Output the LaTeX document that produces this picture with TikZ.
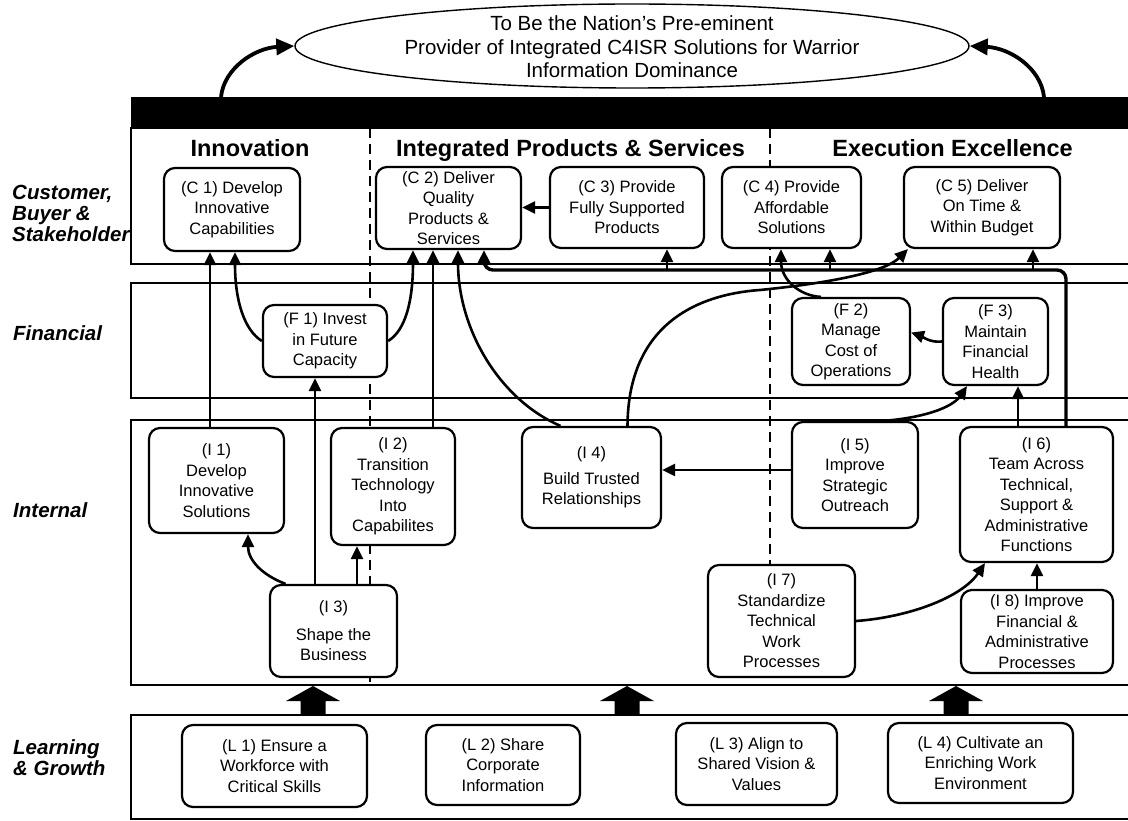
\documentclass[tikz,border=0pt]{standalone}
\usepackage{fontspec}
\setmainfont{Liberation Sans}
\usetikzlibrary{arrows.meta,shapes.geometric}
\newcommand\bxfont{\fontsize{16.5}{20.5}\selectfont}
\newcommand\hdfont{\fontsize{23.5}{26}\selectfont\bfseries}
\newcommand\rowfont{\fontsize{20.5}{21}\selectfont\bfseries\itshape}
\newcommand\visfont{\fontsize{20.5}{23.5}\selectfont}
\begin{document}
\begin{tikzpicture}[x=1pt,y=-1pt,
  obj/.style={draw, line width=2.2pt, rounded corners=11pt, fill=white, align=center, inner sep=0pt, font=\bxfont},
  sz/.style n args={2}{minimum width=#1pt, minimum height=#2pt},
  conn/.style={line width=2.6pt, -{Triangle[length=13pt,width=12pt]}},
  bigconn/.style={line width=3.8pt, -{Triangle[length=18pt,width=16pt]}},
  band/.style={draw, line width=1.6pt},
  dashline/.style={line width=2.6pt, dash pattern=on 10pt off 6pt},
  rowlabel/.style={anchor=west, align=left, font=\rowfont, inner sep=0pt},
  heading/.style={anchor=base, font=\hdfont, inner sep=0pt},
  blockarrow/.style={fill=black}
]
\useasboundingbox (0,0) rectangle (1128,821);
\clip (0,0) rectangle (1128,821);
\fill[white] (0,0) rectangle (1128,821);

% bands
\draw[band] (131,128) rectangle (1140,264);
\draw[band] (131,283) rectangle (1140,398);
\draw[band] (131,420) rectangle (1140,685);
\draw[band] (131,715) rectangle (1140,819);
\node[fill=black, inner sep=0pt, minimum width=1010pt, minimum height=31pt, anchor=north west] (bar) at (131,97) {};

% column separators
\draw[dashline] (370,128) -- (370,685);
\draw[dashline] (770,128) -- (770,565);

% headings
\node[heading] (hInn) at (250,157) {Innovation};
\node[heading] (hInt) at (570.5,157) {Integrated Products \& Services};
\node[heading] (hExe) at (952.5,157) {Execution Excellence};

% row labels
\node[rowlabel] (rC) at (12,213) {Customer,\\Buyer \&\\Stakeholder};
\node[rowlabel] (rF) at (13,333) {Financial};
\node[rowlabel] (rI) at (13,510) {Internal};
\node[rowlabel] (rL) at (13,758) {Learning\\\& Growth};

% vision
\node[ellipse, draw, line width=1.4pt, minimum width=674pt, minimum height=84pt, inner sep=0pt] (vision) at (632,46) {};
\node[align=center, font=\visfont, inner sep=0pt] (vistext) at (632,47) {To Be the Nation's Pre-eminent\\Provider of Integrated C4ISR Solutions for Warrior\\Information Dominance};

% objective boxes
\node[obj, sz={136}{83}] (C1) at (232,209.5) {(C 1) Develop\\Innovative\\Capabilities};
\node[obj, sz={145}{82}] (C2) at (448.5,208) {(C 2) Deliver\\Quality\\Products \&\\Services};
\node[obj, sz={154}{81}] (C3) at (627,207.5) {(C 3) Provide\\Fully Supported\\Products};
\node[obj, sz={139}{81}] (C4) at (791.5,207.5) {(C 4) Provide\\Affordable\\Solutions};
\node[obj, sz={156}{81}] (C5) at (982,207.5) {(C 5) Deliver\\On Time \&\\Within Budget};

\node[obj, sz={124}{72}] (F1) at (325,341) {(F 1) Invest\\in Future\\Capacity};
\node[obj, sz={118}{87}] (F2) at (851,341.5) {(F 2)\\Manage\\Cost of\\Operations};
\node[obj, sz={105}{87}] (F3) at (995.5,341.5) {(F 3)\\Maintain\\Financial\\Health};

\node[obj, sz={135}{105}] (I1) at (216.5,480.5) {(I 1)\\Develop\\Innovative\\Solutions};
\node[obj, sz={124}{117}] (I2) at (393,486.5) {(I 2)\\Transition\\Technology\\Into\\Capabilites};
\node[obj, sz={127}{92}] (I3) at (333.5,631) {(I 3)\\[7pt]Shape the\\Business};
\node[obj, sz={139}{101}] (I4) at (591.5,477.5) {(I 4)\\[5pt]Build Trusted\\Relationships};
\node[obj, sz={126}{106}] (I5) at (855,475) {(I 5)\\Improve\\Strategic\\Outreach};
\node[obj, sz={153}{135}] (I6) at (1036.5,494.5) {(I 6)\\Team Across\\Technical,\\Support \&\\Administrative\\Functions};
\node[obj, sz={147}{112}] (I7) at (781.5,621) {(I 7)\\Standardize\\Technical\\Work\\Processes};
\node[obj, sz={152}{83}] (I8) at (1037,631.5) {(I 8) Improve\\Financial \&\\Administrative\\Processes};

\node[obj, sz={185}{82}] (L1) at (274.5,766) {(L 1) Ensure a\\Workforce with\\Critical Skills};
\node[obj, sz={154}{80}] (L2) at (503,765) {(L 2) Share\\Corporate\\Information};
\node[obj, sz={161}{82}] (L3) at (756.5,764) {(L 3) Align to\\Shared Vision \&\\Values};
\node[obj, sz={185}{80}] (L4) at (980.5,763) {(L 4) Cultivate an\\Enriching Work\\Environment};

% helper coordinates
\coordinate (x210) at (210,0);
\coordinate (x235) at (235,0);
\coordinate (x248) at (248,0);
\coordinate (x315) at (315,0);
\coordinate (x357) at (357,0);
\coordinate (x413) at (413,0);
\coordinate (x433) at (433,0);
\coordinate (x458) at (458,0);
\coordinate (x484) at (484,0);
\coordinate (x781) at (781,0);
\coordinate (x967) at (967,0);
\coordinate (x985) at (985,0);
\coordinate (x1018) at (1018,0);
\coordinate (x1037) at (1037,0);
\coordinate (x1066) at (1066,0);
\coordinate (x221) at (221,0);
\coordinate (x1044) at (1044,0);
\coordinate (y270) at (0,270);
\coordinate (y470) at (0,470);
\coordinate (b3) at (667,270);
\coordinate (b4) at (830,270);
\coordinate (b5) at (1033,270);

% vision arrows
\draw[bigconn] (bar.north -| x221) .. controls (224,68) and (255,48) .. (vision.west);
\draw[bigconn] (bar.north -| x1044) .. controls (1041,68) and (1010,48) .. (vision.east);

% connectors
\draw[conn] (C3.west) -- (C2.east |- C3.west);
\draw[conn] (I1.north -| x210) -- (C1.south -| x210);
\draw[conn] (F1.west) .. controls (244,330) and (235,300) .. (C1.south -| x235);
\draw[conn] (F1.east) .. controls (406,330) and (413,300) .. (C2.south -| x413);
\draw[conn] (I2.north -| x433) -- (C2.south -| x433);
\draw[conn] ([xshift=-31pt]I4.north) .. controls (500,400) and (458,330) .. (C2.south -| x458);
\draw[conn] ([xshift=36pt]I4.north) .. controls (628,330) and (690,295) .. (760,290) .. controls (830,283) and (885,272) .. ([xshift=5pt]C5.south west);
\draw[conn] ([xshift=-30pt]F2.north) .. controls (800,296) and (781,280) .. (C4.south -| x781);
\draw[conn] (F3.west) .. controls (930,343) and (921,336) .. ([yshift=9pt]F2.east);
\draw[conn] ([xshift=28pt]I5.north) .. controls (922,418) and (952,408) .. (F3.south -| x967);
\draw[conn] (I6.north -| x1018) -- (F3.south -| x1018);
\draw[conn] (I5.west |- y470) -- (I4.east |- y470);
\draw[conn, line width=3.4pt, rounded corners=9pt] (I6.north -| x1066) -- (x1066 |- y270) -- (x484 |- y270) -- (C2.south -| x484);
\draw[conn] (b3) -- (C3.south -| b3);
\draw[conn] (b4) -- (C4.south -| b4);
\draw[conn] (b5) -- (C5.south -| b5);
\draw[conn] (I3.north -| x315) -- (F1.south -| x315);
\draw[conn] (I3.north -| x357) -- (I2.south -| x357);
\draw[conn] ([xshift=-48pt]I3.north) .. controls (262,575) and (248,560) .. (I1.south -| x248);
\draw[conn] (I8.north -| x1037) -- (I6.south -| x1037);
\draw[conn] (I7.east) .. controls (910,617) and (962,597) .. (I6.south -| x985);

% learning-to-internal block arrows
\foreach \c in {313,627,956}
  \fill[blockarrow] (\c-12.5,715) -- (\c-12.5,701) -- (\c-27,701) -- (\c,686) -- (\c+27,701) -- (\c+12.5,701) -- (\c+12.5,715) -- cycle;
\end{tikzpicture}
\end{document}
